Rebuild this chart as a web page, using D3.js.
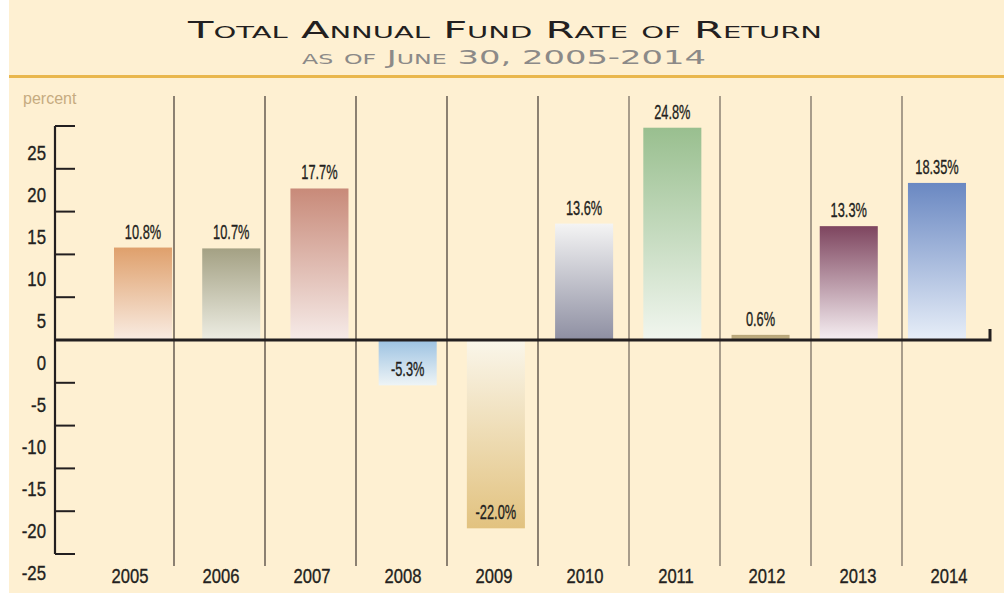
<!DOCTYPE html>
<html>
<head>
<meta charset="utf-8">
<script src="https://cdn.jsdelivr.net/npm/d3@7"></script>
<style>
  body { margin: 0; background: #fff; }
  svg { display: block; }
  .num { font-family: "Liberation Sans", Arial, sans-serif; fill: #231f20; stroke: #231f20; stroke-width: 0.35px; }
</style>
</head>
<body>
<svg width="1004" height="596"></svg>
<script>
const years = ['2005', '2006', '2007', '2008', '2009', '2010', '2011', '2012', '2013', '2014'];
const returns = [10.8, 10.7, 17.7, -5.3, -22.0, 13.6, 24.8, 0.6, 13.3, 18.35];
const valueLabels = ['10.8%', '10.7%', '17.7%', '-5.3%', '-22.0%', '13.6%', '24.8%', '0.6%', '13.3%', '18.35%'];
const yTicks = [25, 20, 15, 10, 5, 0, -5, -10, -15, -20, -25];
// gradient stops: [top colour, bottom colour]
const barColors = [
  ['#dfa06c', '#f9ece2'],
  ['#a4a184', '#edede3'],
  ['#c88a79', '#f6ebe8'],
  ['#9cc2e2', '#eef4f6'],
  ['#faf6ea', '#e2c27f'],
  ['#f4f4f4', '#8e8fa2'],
  ['#99bf8f', '#f1f6ef'],
  ['#b8a578', '#c2b285'],
  ['#7e455f', '#f6eff2'],
  ['#6a88c2', '#e7eef8']
];

const svg = d3.select('svg');

// condensed look: squeeze text horizontally around its own x
function squeeze(sel, k) {
  sel.attr('transform', function () {
    const tx = +this.getAttribute('x');
    return `translate(${tx},0) scale(${k},1) translate(${-tx},0)`;
  });
}

// background
svg.append('rect')
    .attr('x', 9).attr('y', 0).attr('width', 995).attr('height', 593)
    .attr('fill', '#fef0d2');

svg.append('rect')
    .attr('x', 9).attr('y', 75).attr('width', 995).attr('height', 3)
    .attr('fill', '#e9b74d');

svg.append('text')
    .attr('x', 505).attr('y', 38)
    .attr('text-anchor', 'middle')
    .attr('textLength', 634).attr('lengthAdjust', 'spacingAndGlyphs')
    .style('font-family', '"DejaVu Sans", sans-serif')
    .style('font-variant', 'small-caps')
    .style('font-size', '23px')
    .style('fill', '#231f20')
    .text('Total Annual Fund Rate of Return');

svg.append('text')
    .attr('x', 504).attr('y', 64)
    .attr('text-anchor', 'middle')
    .attr('textLength', 404).attr('lengthAdjust', 'spacingAndGlyphs')
    .style('font-family', '"DejaVu Sans", sans-serif')
    .style('font-variant', 'small-caps')
    .style('font-size', '20px')
    .style('fill', '#8c8a88')
    .text('as of June 30, 2005-2014');

svg.append('text')
    .attr('x', 23).attr('y', 104)
    .style('font-family', '"Liberation Sans", sans-serif')
    .style('font-size', '16px')
    .style('fill', '#c6ab80')
    .text('percent');

// dividers / year labels use one band, bars sit on a slightly tighter one
const x = d3.scaleBand().domain(years).range([83, 993]);
const xBar = d3.scaleBand().domain(years).range([114, 966]).paddingInner(0.342).paddingOuter(0);
const y = d3.scaleLinear().domain([-25, 25]).range([554, 126]);
const yLab = d3.scaleLinear().domain([25, -25]).range([160, 580]);

const defs = svg.append('defs');
years.forEach((yr, i) => {
  const g = defs.append('linearGradient')
      .attr('id', 'g' + yr)
      .attr('x1', 0).attr('y1', 0).attr('x2', 0).attr('y2', 1);
  g.append('stop').attr('offset', '0%').attr('stop-color', barColors[i][0]);
  g.append('stop').attr('offset', '100%').attr('stop-color', barColors[i][1]);
});

// dividers between years
svg.append('g').selectAll('line')
  .data(years.slice(0, -1))
  .join('line')
    .attr('x1', d => x(d) + x.bandwidth()).attr('x2', d => x(d) + x.bandwidth())
    .attr('y1', 96).attr('y2', 566)
    .attr('stroke', (d, i) => i < 5 ? '#3e3631' : '#6e655c').attr('stroke-width', 1.2);

svg.append('g').selectAll('rect')
  .data(returns)
  .join('rect')
    .attr('x', (d, i) => xBar(years[i]))
    .attr('width', xBar.bandwidth())
    .attr('y', d => y(Math.max(0, d)))
    .attr('height', d => Math.abs(y(d) - y(0)))
    .attr('fill', (d, i) => `url(#g${years[i]})`);

svg.append('g').selectAll('text')
  .data(returns)
  .join('text')
    .attr('class', 'num')
    .attr('x', (d, i) => xBar(years[i]) + xBar.bandwidth() / 2)
    .attr('y', d => y(d) - 9)
    .attr('text-anchor', 'middle')
    .style('font-size', '21px')
    .text((d, i) => valueLabels[i])
    .call(squeeze, 0.61);

// y axis
const axisG = svg.append('g');
axisG.append('line')
    .attr('x1', 55).attr('x2', 55).attr('y1', y(25)).attr('y2', y(-25))
    .attr('stroke', '#231f20').attr('stroke-width', 2.2);
axisG.selectAll('.tick')
  .data(yTicks.filter(d => d !== 0))
  .join('line')
    .attr('x1', 55).attr('x2', 75)
    .attr('y1', d => y(d)).attr('y2', d => y(d))
    .attr('stroke', '#231f20').attr('stroke-width', 2);
axisG.selectAll('text')
  .data(yTicks)
  .join('text')
    .attr('class', 'num')
    .attr('x', 46)
    .attr('y', d => yLab(d))
    .attr('text-anchor', 'end')
    .style('font-size', '21px')
    .text(d => d)
    .call(squeeze, 0.8);

// zero line
svg.append('path')
    .attr('d', `M55,${y(0)}H990V${y(0) - 11}`)
    .attr('fill', 'none')
    .attr('stroke', '#231f20').attr('stroke-width', 3);

// year labels
svg.append('g').selectAll('text')
  .data(years)
  .join('text')
    .attr('class', 'num')
    .attr('x', d => x(d) + 47)
    .attr('y', 583)
    .attr('text-anchor', 'middle')
    .style('font-size', '21px')
    .text(d => d)
    .call(squeeze, 0.79);
</script>
</body>
</html>
